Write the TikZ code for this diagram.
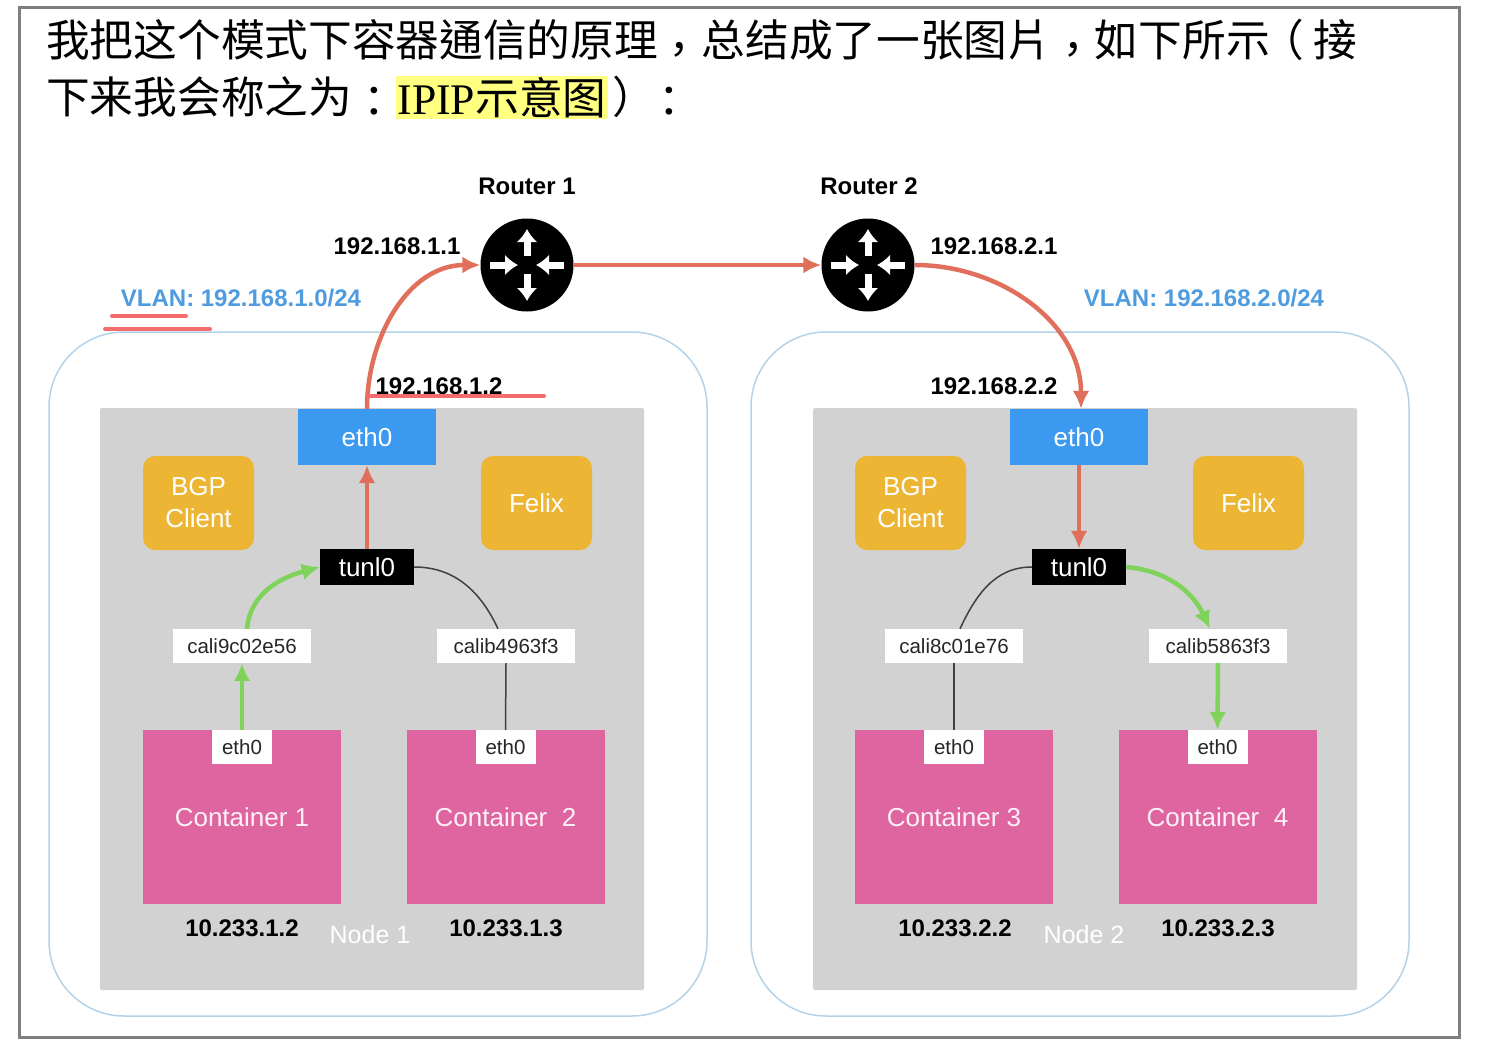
\documentclass[tikz,border=0pt]{standalone}
\usepackage{fontspec}
\setmainfont{Liberation Sans}
\newfontfamily\cjk{Noto Sans CJK TC}
\newfontfamily\titleserif{Liberation Serif}
\usetikzlibrary{arrows.meta}
\definecolor{framegray}{HTML}{7F7F7F}
\definecolor{hostgray}{HTML}{D2D2D2}
\definecolor{vlanblue}{HTML}{4F9BE0}
\definecolor{vlanline}{HTML}{B4D3E8}
\definecolor{ethblue}{HTML}{3B9AF0}
\definecolor{gold}{HTML}{EDB534}
\definecolor{podpink}{HTML}{DF65A0}
\definecolor{pathred}{HTML}{E0705C}
\definecolor{pathgreen}{HTML}{7FD25A}
\definecolor{markred}{HTML}{F56C6C}
\definecolor{marker}{HTML}{FFFF80}
\newcommand\titlepunct[3]{\raisebox{#2}{\makebox[1em][l]{\hspace{#1}#3}}}
\begin{document}
\begin{tikzpicture}[x=1pt,y=-1pt]
		\tikzset{titletext/.style = {anchor=west,inner sep=0,font=\cjk\fontsize{43.7}{50}\selectfont}}
		\tikzset{vlanbox/.style = {draw=vlanline,line width=1.5pt,rounded corners=75pt,minimum width=658pt,minimum height=684pt}}
		\tikzset{hostbox/.style = {fill=hostgray,rounded corners=2pt,minimum width=544pt,minimum height=582pt}}
		\tikzset{ethbox/.style = {fill=ethblue,text=white,inner sep=0,minimum width=138pt,minimum height=56pt,font=\fontsize{26}{32}\selectfont}}
		\tikzset{agent/.style = {fill=gold,text=white,rounded corners=12pt,align=center,inner sep=0,minimum width=111pt,minimum height=94pt,font=\fontsize{26}{32}\selectfont}}
		\tikzset{tunnel/.style = {fill=black,text=white,inner sep=0,minimum width=94pt,minimum height=36pt,font=\fontsize{26}{32}\selectfont}}
		\tikzset{cali/.style = {fill=white,text=black!85,inner sep=0,minimum width=138pt,minimum height=34pt,font=\fontsize{20.5}{24}\selectfont}}
		\tikzset{pod/.style = {fill=podpink,text=white!90!podpink,inner sep=0,minimum width=198pt,minimum height=174pt,font=\fontsize{26}{32}\selectfont}}
		\tikzset{podeth/.style = {fill=white,text=black!85,inner sep=0,minimum width=60pt,minimum height=34pt,font=\fontsize{20.5}{24}\selectfont}}
		\tikzset{router/.style = {shape=circle,fill=black,inner sep=0,minimum size=93pt}}
		\tikzset{plain/.style = {inner sep=0,font=\bfseries\fontsize{24}{28}\selectfont}}
		\tikzset{vlanlabel/.style = {inner sep=0,text=vlanblue,font=\bfseries\fontsize{24}{28}\selectfont}}
		\tikzset{hostlabel/.style = {inner sep=0,text=white,font=\fontsize{25}{28}\selectfont}}
		\tikzset{redpath/.style = {-{Latex[length=18pt,width=17pt]},draw=pathred,line width=4.5pt}}
		\tikzset{greenpath/.style = {-{Latex[length=18pt,width=17pt]},draw=pathgreen,line width=4.5pt}}
		\tikzset{blackpath/.style = {draw=black!75,line width=1.5pt}}
		\tikzset{inarrow/.style = {-{Latex[length=13pt,width=21pt]},draw=white,line width=7pt}}
		\tikzset{markline/.style = {draw=markred,line width=4pt,line cap=round}}
		\useasboundingbox (0,0) rectangle (1502,1057);
		\node[draw=framegray,line width=3pt,minimum width=1440pt,minimum height=1029pt] (frame) at (739,522.5) {};
		\node[titletext] (titleA) at (46,42) {我把这个模式下容器通信的原理\titlepunct{0pt}{-.2em}{，}总结成了一张图片\titlepunct{0pt}{-.2em}{，}如下所示\titlepunct{-.22em}{0pt}{（}接};
		\node[titletext] (titleB) at (46,97) {下来我会称之为\titlepunct{0pt}{-.1em}{：}};
		\node[fill=marker,inner sep=0,minimum width=212pt,minimum height=43pt,font=\fontsize{43.7}{50}\selectfont] (titleC) at (502,97.5) {{\titleserif IPIP}{\cjk 示意图}};
		\node[titletext] (titleD) at (608,97) {\titlepunct{.1em}{0pt}{）}\titlepunct{-.1em}{-.1em}{：}};
		\node[vlanbox] (vlanA) at (378,674) {};
		\node[vlanbox] (vlanB) at (1080,674) {};
		\node[hostbox] (hostA) at (372,699) {};
		\node[hostbox] (hostB) at (1085,699) {};
		\node[router] (routerA) at (527,265) {};
		\node[router] (routerB) at (868,265) {};
		\node[plain] (routerAlabel) at (527,186) {Router 1};
		\node[plain] (routerBlabel) at (869,186) {Router 2};
		\node[plain] (ipA) at (397,246) {192.168.1.1};
		\node[plain] (ipB) at (994,246) {192.168.2.1};
		\node[plain] (ipC) at (439,386) {192.168.1.2};
		\node[plain] (ipD) at (994,386) {192.168.2.2};
		\node[vlanlabel] (vlanAlabel) at (241,298) {VLAN: 192.168.1.0/24};
		\node[vlanlabel] (vlanBlabel) at (1204,298) {VLAN: 192.168.2.0/24};
		\node[ethbox] (ethA) at (367,437) {eth0};
		\node[ethbox] (ethB) at (1079,437) {eth0};
		\node[agent] (bgpA) at (198.5,503) {BGP\\Client};
		\node[agent] (felixA) at (536.5,503) {Felix};
		\node[agent] (bgpB) at (910.5,503) {BGP\\Client};
		\node[agent] (felixB) at (1248.5,503) {Felix};
		\node[tunnel] (tunlA) at (367,567) {tunl0};
		\node[tunnel] (tunlB) at (1079,567) {tunl0};
		\node[cali] (caliA) at (242,646) {cali9c02e56};
		\node[cali] (caliB) at (506,646) {calib4963f3};
		\node[cali] (caliC) at (954,646) {cali8c01e76};
		\node[cali] (caliD) at (1218,646) {calib5863f3};
		\node[pod] (podA) at (242,817) {Container 1};
		\node[pod] (podB) at (505.5,817) {Container\ \ 2};
		\node[pod] (podC) at (954,817) {Container 3};
		\node[pod] (podD) at (1217.5,817) {Container\ \ 4};
		\node[podeth] (podethA) at (242,747) {eth0};
		\node[podeth] (podethB) at (505.5,747) {eth0};
		\node[podeth] (podethC) at (954,747) {eth0};
		\node[podeth] (podethD) at (1217.5,747) {eth0};
		\node[plain] (addrA) at (242,928) {10.233.1.2};
		\node[plain] (addrB) at (506,928) {10.233.1.3};
		\node[plain] (addrC) at (955,928) {10.233.2.2};
		\node[plain] (addrD) at (1218,928) {10.233.2.3};
		\node[hostlabel] (nodeA) at (370,935) {Node 1};
		\node[hostlabel] (nodeB) at (1084,935) {Node 2};
		\draw[inarrow] ([yshift=9pt]routerA.center) -- ([yshift=36pt]routerA.center);
		\draw[inarrow] ([yshift=-9pt]routerA.center) -- ([yshift=-36pt]routerA.center);
		\draw[inarrow] ([xshift=-37pt]routerA.center) -- ([xshift=-9pt]routerA.center);
		\draw[inarrow] ([xshift=37pt]routerA.center) -- ([xshift=9pt]routerA.center);
		\draw[inarrow] ([yshift=9pt]routerB.center) -- ([yshift=36pt]routerB.center);
		\draw[inarrow] ([yshift=-9pt]routerB.center) -- ([yshift=-36pt]routerB.center);
		\draw[inarrow] ([xshift=-37pt]routerB.center) -- ([xshift=-9pt]routerB.center);
		\draw[inarrow] ([xshift=37pt]routerB.center) -- ([xshift=9pt]routerB.center);
		\path (ethA.north) edge[redpath,out=90,in=180] (routerA.west);
		\path (routerA.east) edge[redpath] (routerB.west);
		\path (routerB.east) edge[redpath,out=0,in=90] ([xshift=2pt]ethB.north);
		\path (tunlA.north) edge[redpath] (ethA.south);
		\path (ethB.south) edge[redpath] (tunlB.north);
		\path (podethA.north) edge[greenpath] (caliA.south);
		\path ([xshift=5pt]caliA.north) edge[greenpath,out=85,in=195] (tunlA.west);
		\path (tunlA.east) edge[blackpath,out=0,in=115] ([xshift=-8pt]caliB.north);
		\path (caliB.south) edge[blackpath] (podethB.north);
		\path (tunlB.west) edge[blackpath,out=180,in=65] ([xshift=6pt]caliC.north);
		\path (caliC.south) edge[blackpath] (podethC.north);
		\path (tunlB.east) edge[greenpath,out=-5,in=115] ([xshift=-8pt]caliD.north);
		\path (caliD.south) edge[greenpath] (podethD.north);
		\coordinate (markAa) at (112,316);
		\coordinate (markAb) at (186,316);
		\coordinate (markBa) at (105,329);
		\coordinate (markBb) at (210,329);
		\coordinate (markCa) at (368,396);
		\coordinate (markCb) at (544,396);
		\draw[markline] (markAa) -- (markAb);
		\draw[markline] (markBa) -- (markBb);
		\draw[markline] (markCa) -- (markCb);
\end{tikzpicture}
\end{document}
